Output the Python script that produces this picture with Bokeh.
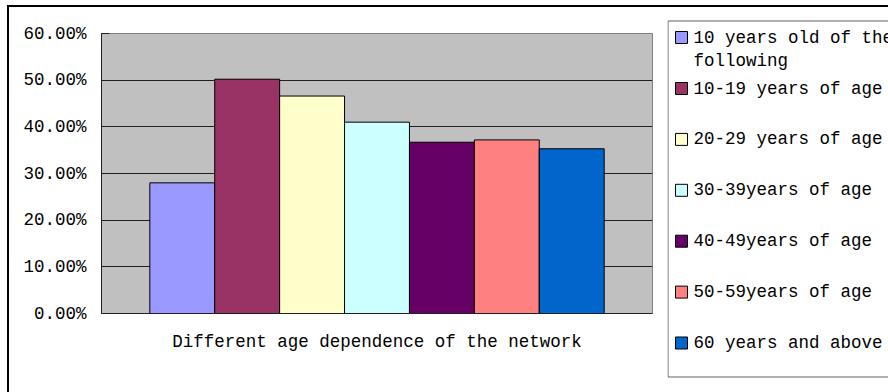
import textwrap

from bokeh.embed import file_html
from bokeh.resources import INLINE
from bokeh.plotting import figure
from bokeh.layouts import row, column
from bokeh.models import (FactorRange, Range1d, FixedTicker, NumeralTickFormatter,
                          ColumnDataSource, Div)
from bokeh.core.properties import value
from bokeh.transform import dodge

# --- data -------------------------------------------------------------
category = "Different age dependence of the network"
series = [
    "10 years old of the following",
    "10-19 years of age",
    "20-29 years of age",
    "30-39years of age",
    "40-49years of age",
    "50-59years of age",
    "60 years and above",
]
shares = [0.280, 0.502, 0.466, 0.410, 0.367, 0.372, 0.353]
colors = ["#9999FF", "#993366", "#FFFFCC", "#CCFFFF", "#660066", "#FF8080", "#0066CC"]
y_ticks = [0.0, 0.1, 0.2, 0.3, 0.4, 0.5, 0.6]

FONT = "Liberation Mono"
FSIZE = "17.5px"

# --- bar chart --------------------------------------------------------
p = figure(
    width=658, height=385,
    x_range=FactorRange(factors=[category], range_padding=0),
    y_range=Range1d(0, 0.6),
    output_backend="svg", toolbar_location=None,
    min_border_left=92, min_border_right=15,
    min_border_top=26, min_border_bottom=79,
)
p.frame_align = False
p.background_fill_color = "#C0C0C0"
p.border_fill_color = "white"
p.outline_line_color = "#808080"
p.outline_line_width = 1

# one renderer per age group, dodged around the single category
bar_w = 0.1178
n = len(series)
for i, (name, val, col) in enumerate(zip(series, shares, colors)):
    src = ColumnDataSource(dict(x=[category], top=[val]))
    p.vbar(x=dodge("x", (i - (n - 1) / 2) * bar_w, range=p.x_range),
           top="top", width=bar_w, source=src,
           fill_color=col, line_color="black", line_width=1)

p.xgrid.grid_line_color = None
p.ygrid.grid_line_color = "#202020"
p.ygrid.grid_line_width = 1

p.yaxis.ticker = FixedTicker(ticks=y_ticks)
p.yaxis.formatter = NumeralTickFormatter(format="0.00%")
p.yaxis.major_tick_in = 8
p.yaxis.major_tick_out = 0
p.yaxis.minor_tick_line_color = None
p.yaxis.major_label_standoff = 15
p.yaxis.axis_line_color = "#202020"
p.yaxis.major_tick_line_color = "#202020"

p.xaxis.major_tick_in = 0
p.xaxis.major_tick_out = 0
p.xaxis.major_label_standoff = 18
p.xaxis.axis_line_color = "#202020"

for ax in (p.xaxis[0], p.yaxis[0]):
    ax.major_label_text_font = FONT
    ax.major_label_text_font_size = FSIZE
    ax.major_label_text_color = "black"

# --- legend panel (coordinates in page pixels) ------------------------
lg = figure(
    width=221, height=385,
    x_range=Range1d(667, 888), y_range=Range1d(392, 7),
    output_backend="svg", toolbar_location=None,
    min_border=0, min_border_left=0, min_border_right=0,
    min_border_top=0, min_border_bottom=0,
)
lg.frame_align = False
lg.axis.visible = False
lg.grid.visible = False
lg.outline_line_color = None
lg.background_fill_color = "white"
lg.border_fill_color = "white"

# legend frame runs past the right edge of the page
lg.quad(left=[667.5], right=[2000], top=[20.5], bottom=[376.5],
        fill_color="white", line_color="#606060", line_width=1)

sw_x, sw_size, txt_x, line_h = 681, 12, 693, 23
sw_y, tx, ty, tt = [], [], [], []
for i, name in enumerate(series):
    yc = 37 if i == 0 else 88 + (i - 1) * 50.9
    sw_y.append(yc)
    for k, ln in enumerate(textwrap.wrap(name, 19)):
        tx.append(txt_x)
        ty.append(yc + k * line_h)
        tt.append(ln)

lg.rect(x=[sw_x] * len(series), y=sw_y, width=sw_size, height=sw_size,
        fill_color=colors, line_color="black", line_width=1)
lg.text(x=tx, y=ty, text=tt, text_font=value(FONT), text_font_size=FSIZE,
        text_color="black", text_baseline="middle", text_align="left")

# --- outer chart border (top and left edges) --------------------------
top_gap = Div(width=888, height=5, margin=0)
top_rule = Div(width=881, height=2, margin=(0, 0, 0, 7),
               styles={"background-color": "black"})
left_gap = Div(width=7, height=385, margin=0)
left_rule = Div(width=2, height=385, margin=0,
                styles={"background-color": "black"})

layout = column(top_gap, top_rule,
                row(left_gap, left_rule, p, lg, spacing=0),
                spacing=0, margin=0)

open("out.html", "w").write(file_html(layout, INLINE))
